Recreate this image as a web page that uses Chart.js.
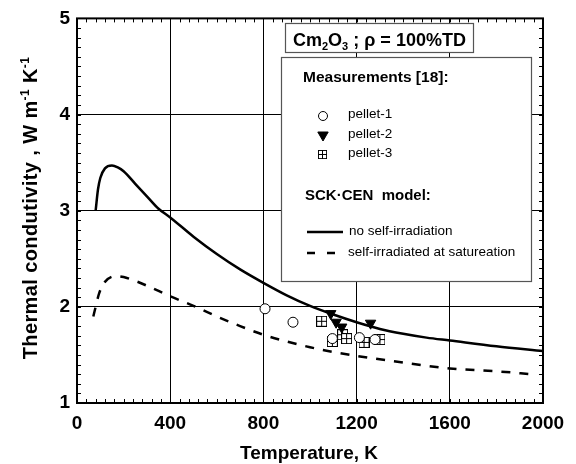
<!DOCTYPE html>
<html>
<head>
<meta charset="utf-8">
<script src="https://cdn.jsdelivr.net/npm/chart.js@4/dist/chart.umd.min.js"></script>
<style>
  html, body { margin: 0; padding: 0; background: #fff; }
  #wrap { width: 576px; height: 464px; }
</style>
</head>
<body>
<div id="wrap"><canvas id="c" width="576" height="464"></canvas></div>
<script>
// model curves (SCK-CEN)
const modelT = [80, 90, 100, 120, 150, 175, 200, 250, 300, 350, 400, 500, 600, 700, 800, 900, 1000, 1100, 1200, 1300, 1400, 1500, 1600, 1800, 2000];
const noIrr  = [3.00, 3.22, 3.34, 3.44, 3.47, 3.45, 3.41, 3.28, 3.15, 3.02, 2.93, 2.73, 2.55, 2.39, 2.25, 2.12, 2.01, 1.92, 1.84, 1.77, 1.72, 1.68, 1.65, 1.59, 1.54];
const satT   = [70, 80, 95, 120, 170, 200, 250, 300, 400, 500, 600, 700, 800, 900, 1000, 1100, 1200, 1400, 1600, 1800, 1950];
const satIrr = [1.90, 2.00, 2.14, 2.26, 2.32, 2.31, 2.27, 2.22, 2.11, 2.01, 1.90, 1.80, 1.71, 1.64, 1.58, 1.53, 1.49, 1.42, 1.36, 1.33, 1.30];

// measurements [18]
const p1T = [807, 927, 1096, 1212, 1279];
const p1K = [1.98, 1.84, 1.67, 1.68, 1.66];
const p2T = [1089, 1112, 1136, 1260];
const p2K = [1.93, 1.84, 1.79, 1.83];
const p3T = [1050, 1096, 1140, 1157, 1232, 1300];
const p3K = [1.85, 1.64, 1.71, 1.67, 1.63, 1.66];

const xTicks = [0, 400, 800, 1200, 1600, 2000];
const yTicks = [1, 2, 3, 4, 5];

const FONT = '"Liberation Sans", Arial, sans-serif';

function pts(xs, ys) { return xs.map((x, i) => ({ x: x, y: ys[i] })); }

// square with a plus inside
function squarePlus() {
    const cv = document.createElement('canvas');
    cv.width = 11; cv.height = 11;
    const g = cv.getContext('2d');
    g.fillStyle = '#fff';
    g.fillRect(0.5, 0.5, 10, 10);
    g.strokeStyle = '#000';
    g.lineWidth = 1;
    g.strokeRect(0.5, 0.5, 10, 10);
    g.beginPath();
    g.moveTo(5.5, 0.5); g.lineTo(5.5, 10.5);
    g.moveTo(0.5, 5.5); g.lineTo(10.5, 5.5);
    g.stroke();
    return cv;
}
const sqImg = squarePlus();

// inward minor ticks, frame, titles, boxed legend
const framePlugin = {
    id: 'frame',
    afterDraw(chart) {
        const ctx = chart.ctx;
        const a = chart.chartArea;
        const xs = chart.scales.x, ys = chart.scales.y;
        ctx.save();
        ctx.strokeStyle = '#000';
        ctx.lineWidth = 1;
        ctx.beginPath();
        for (let t = 0; t <= 2000; t += 40) {
            const px = Math.round(xs.getPixelForValue(t)) + 0.5;
            ctx.moveTo(px, a.bottom); ctx.lineTo(px, a.bottom - 4);
            ctx.moveTo(px, a.top); ctx.lineTo(px, a.top + 4);
        }
        for (let k = 10; k <= 50; k += 1) {
            const py = Math.round(ys.getPixelForValue(k / 10)) + 0.5;
            ctx.moveTo(a.left, py); ctx.lineTo(a.left + 4, py);
            ctx.moveTo(a.right, py); ctx.lineTo(a.right - 4, py);
        }
        ctx.stroke();
        ctx.lineWidth = 2;
        ctx.strokeRect(a.left, a.top, a.right - a.left, a.bottom - a.top);

        // axis titles
        ctx.fillStyle = '#000';
        ctx.font = 'bold 19px ' + FONT;
        ctx.textAlign = 'center';
        ctx.textBaseline = 'alphabetic';
        ctx.fillText('Temperature, K', 309, 459);

        // y title with superscripts
        ctx.save();
        ctx.translate(37, 208);
        ctx.rotate(-Math.PI / 2);
        ctx.letterSpacing = '0.4px';
        const big = 'bold 20px ' + FONT, small = 'bold 12px ' + FONT;
        const parts = [['Thermal condutivity , W m', big, 0], ['-1', small, -8], [' K', big, 0], ['-1', small, -8]];
        let w = 0;
        parts.forEach(p => { ctx.font = p[1]; w += ctx.measureText(p[0]).width; });
        let x0 = -w / 2;
        ctx.textAlign = 'left';
        parts.forEach(p => {
            ctx.font = p[1];
            ctx.fillText(p[0], x0, p[2]);
            x0 += ctx.measureText(p[0]).width;
        });
        ctx.restore();

        // title box
        ctx.fillStyle = '#fff';
        ctx.fillRect(285, 23, 189, 29);
        ctx.strokeStyle = '#555';
        ctx.lineWidth = 1.2;
        ctx.strokeRect(285.5, 23.5, 188, 29);
        ctx.fillStyle = '#000';
        ctx.textAlign = 'left';
        const tParts = [['Cm', 'bold 18px ' + FONT, 0], ['2', 'bold 11px ' + FONT, 4], ['O', 'bold 18px ' + FONT, 0],
                        ['3', 'bold 11px ' + FONT, 4], [' ; \u03c1 = 100%TD', 'bold 18px ' + FONT, 0]];
        let tx = 293;
        tParts.forEach(p => {
            ctx.font = p[1];
            ctx.fillText(p[0], tx, 46 + p[2]);
            tx += ctx.measureText(p[0]).width;
        });

        // legend box
        ctx.fillStyle = '#fff';
        ctx.fillRect(281, 57, 251, 225);
        ctx.strokeStyle = '#555';
        ctx.lineWidth = 1.2;
        ctx.strokeRect(281.5, 57.5, 250, 224);
        ctx.fillStyle = '#000';
        ctx.textBaseline = 'middle';
        ctx.font = 'bold 15.5px ' + FONT;
        ctx.fillText('Measurements [18]:', 303, 78);
        ctx.font = 'bold 15px ' + FONT;
        ctx.fillText('SCK\u00b7CEN  model:', 305, 196);
        ctx.font = '13.5px ' + FONT;
        ctx.fillText('pellet-1', 348, 114);
        ctx.fillText('pellet-2', 348, 134);
        ctx.fillText('pellet-3', 348, 153);
        ctx.fillText('no self-irradiation', 349, 231);
        ctx.fillText('self-irradiated at satureation', 348, 252);

        const H = Chart.helpers;
        ctx.strokeStyle = '#000';
        ctx.fillStyle = '#fff';
        ctx.lineWidth = 1;
        H.drawPoint(ctx, { pointStyle: 'circle', radius: 4.5, rotation: 0, borderWidth: 1 }, 323, 116);
        ctx.fillStyle = '#000';
        H.drawPoint(ctx, { pointStyle: 'triangle', radius: 6, rotation: 180, borderWidth: 1 }, 323, 135);
        ctx.drawImage(sqImg, 318, 150, 9, 9);

        ctx.lineWidth = 2.5;
        ctx.beginPath();
        ctx.moveTo(307, 232); ctx.lineTo(343, 232);
        ctx.stroke();
        ctx.setLineDash([8, 12]);
        ctx.beginPath();
        ctx.moveTo(307, 253); ctx.lineTo(335, 253);
        ctx.stroke();
        ctx.restore();
    }
};

new Chart(document.getElementById('c'), {
    type: 'scatter',
    data: {
        datasets: [
            {
                type: 'line',
                label: 'no self-irradiation',
                data: pts(modelT, noIrr),
                borderColor: '#000',
                borderWidth: 2.5,
                pointRadius: 0,
                cubicInterpolationMode: 'monotone',
                order: 5
            },
            {
                type: 'line',
                label: 'self-irradiated at satureation',
                data: pts(satT, satIrr),
                borderColor: '#000',
                borderWidth: 2.5,
                borderDash: [9, 9],
                pointRadius: 0,
                cubicInterpolationMode: 'monotone',
                order: 4
            },
            {
                label: 'pellet-3',
                data: pts(p3T, p3K),
                pointStyle: sqImg,
                pointRadius: 5,
                order: 3
            },
            {
                label: 'pellet-1',
                data: pts(p1T, p1K),
                pointStyle: 'circle',
                pointRadius: 5,
                borderColor: '#000',
                borderWidth: 1,
                backgroundColor: '#fff',
                order: 2
            },
            {
                label: 'pellet-2',
                data: pts(p2T, p2K),
                pointStyle: 'triangle',
                pointRotation: 180,
                pointRadius: 6,
                borderColor: '#000',
                backgroundColor: '#000',
                borderWidth: 1,
                order: 1
            }
        ]
    },
    options: {
        responsive: false,
        animation: false,
        events: [],
        layout: { padding: { left: 0, right: 33, top: 16, bottom: 0 } },
        plugins: { legend: { display: false }, tooltip: { enabled: false } },
        scales: {
            x: {
                type: 'linear',
                min: 0, max: 2000,
                afterFit: s => { s.height = 61; },
                afterBuildTicks: s => { s.ticks = xTicks.map(v => ({ value: v })); },
                grid: { color: '#000', lineWidth: 1, drawTicks: false },
                border: { display: false },
                ticks: {
                    color: '#000', padding: 9,
                    font: { family: FONT, size: 19, weight: 'bold' },
                    callback: v => String(v)
                }
            },
            y: {
                type: 'linear',
                min: 1, max: 5,
                afterFit: s => { s.width = 77; },
                afterBuildTicks: s => { s.ticks = yTicks.map(v => ({ value: v })); },
                grid: { color: '#000', lineWidth: 1, drawTicks: false },
                border: { display: false },
                ticks: {
                    color: '#000', padding: 7,
                    font: { family: FONT, size: 19, weight: 'bold' },
                    callback: v => String(v)
                }
            }
        }
    },
    plugins: [framePlugin]
});
</script>
</body>
</html>
